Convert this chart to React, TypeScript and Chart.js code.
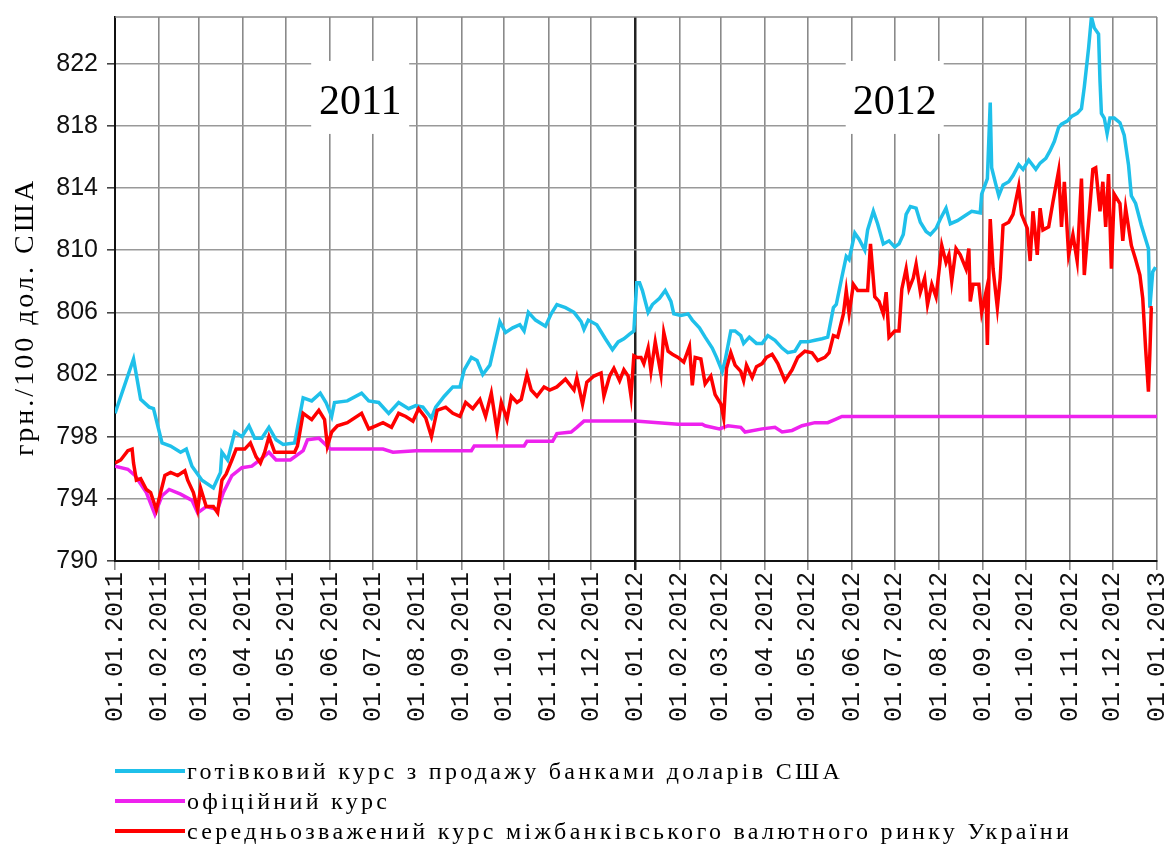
import { useEffect, useRef } from 'react';
import { Chart, registerables } from 'chart.js';

Chart.register(...registerables);

// ---- Data (x = days since 01.01.2011, y = UAH per 100 USD) ----
const cashDays = [0,13,18,24,27,33,39,46,50,54,61,69,74,75,79,84,89,94,98,103,108,113,118,126,132,138,144,148,152,154,163,173,178,185,192,199,206,211,216,222,225,231,237,242,245,250,254,258,263,266,270,274,279,284,287,290,295,302,306,310,316,322,327,329,332,338,344,349,353,357,361,364,366,368,370,374,377,382,386,390,392,397,402,405,410,414,419,422,426,428,432,435,439,441,445,450,454,458,463,468,472,477,481,486,491,496,500,504,506,510,513,515,519,522,526,528,532,535,539,543,547,550,553,555,558,562,565,569,572,576,579,583,586,591,596,601,607,608,612,614,615,618,620,623,627,630,634,637,641,646,649,653,656,659,662,664,668,671,675,678,680,683,685,687,690,691,692,694,696,698,701,705,708,711,713,716,720,725,726,728,730];
const cashRates = [799.5,803.0,800.4,799.9,799.8,797.6,797.4,797.0,797.2,796.1,795.2,794.7,795.7,797.0,796.5,798.3,798.0,798.7,797.9,797.9,798.6,797.8,797.5,797.6,800.5,800.3,800.8,800.2,799.3,800.2,800.3,800.8,800.3,800.2,799.5,800.2,799.8,800.0,799.9,799.2,799.9,800.6,801.2,801.2,802.3,803.1,802.9,802.0,802.6,803.8,805.4,804.7,805.0,805.2,804.8,806.0,805.5,805.1,805.9,806.5,806.3,806.0,805.4,804.9,805.5,805.2,804.3,803.6,804.1,804.3,804.6,804.8,807.9,807.9,807.4,806.0,806.5,806.9,807.4,806.7,805.9,805.8,805.9,805.5,805.0,804.4,803.7,803.1,802.2,802.9,804.8,804.8,804.5,804.0,804.4,804.0,804.0,804.5,804.2,803.7,803.4,803.5,804.1,804.1,804.2,804.3,804.4,806.3,806.5,808.3,809.6,809.4,811.1,810.7,810.0,811.3,812.5,811.7,810.4,810.6,810.2,810.4,811.0,812.3,812.8,812.7,811.8,811.2,811.0,811.4,812.0,812.7,811.7,811.9,812.2,812.5,812.4,813.6,814.6,819.5,815.3,814.2,813.5,814.2,814.4,814.8,815.5,815.2,815.8,815.2,815.6,815.9,816.4,817.0,817.9,818.1,818.3,818.6,818.8,819.1,820.5,823.0,825.0,824.3,823.9,820.9,818.8,818.5,817.5,818.5,818.5,818.2,817.4,815.5,813.5,813.0,811.6,810.1,806.3,808.6,808.9];

const officialDays = [0,9,14,22,28,33,38,46,54,58,64,72,76,82,89,96,103,108,113,123,132,135,143,151,188,195,211,250,252,287,289,307,310,320,324,329,365,395,412,414,424,430,439,442,454,463,468,475,482,491,500,505,510,731];
const officialRates = [796.1,795.9,795.5,794.4,793.0,794.2,794.6,794.3,793.9,793.1,793.5,793.3,794.4,795.5,796.0,796.1,796.6,797.0,796.5,796.5,797.1,797.8,797.9,797.2,797.2,797.0,797.1,797.1,797.4,797.4,797.7,797.7,798.2,798.3,798.6,799.0,799.0,798.8,798.8,798.7,798.5,798.7,798.6,798.3,798.5,798.6,798.3,798.4,798.7,798.9,798.9,799.1,799.3,799.3];

const interbankDays = [0,4,9,12,13,15,18,22,25,29,32,35,39,44,49,51,55,58,60,64,69,72,75,78,82,85,91,95,99,102,105,108,112,118,126,128,132,138,143,147,149,152,156,163,173,178,183,188,194,199,204,209,213,218,222,226,232,237,242,246,251,256,260,264,268,271,275,278,282,285,289,292,296,301,305,310,316,322,324,328,331,336,341,343,347,350,354,357,360,362,364,366,369,371,374,376,379,383,385,388,391,395,399,403,405,407,411,414,418,421,425,427,429,432,435,439,441,443,447,450,454,457,461,465,470,475,479,484,489,493,498,501,504,507,511,513,515,518,521,526,528,530,533,536,539,541,543,547,550,552,555,557,560,562,565,568,570,573,576,578,580,583,585,587,590,593,597,599,600,602,606,608,611,612,614,616,619,621,623,627,630,634,636,640,642,644,647,649,651,655,658,662,664,666,669,672,675,678,680,683,686,688,691,693,695,697,699,701,705,707,709,713,716,719,721,723,725,726,727,728];
const interbankRates = [796.3,796.5,797.1,797.2,796.3,795.2,795.3,794.6,794.4,793.3,794.4,795.5,795.7,795.5,795.8,795.2,794.4,793.3,794.7,793.5,793.5,793.1,795.2,795.6,796.5,797.2,797.2,797.6,796.7,796.3,797.0,798.0,797.0,797.0,797.0,797.4,799.5,799.1,799.7,799.1,797.4,798.3,798.7,798.9,799.5,798.5,798.7,798.9,798.6,799.5,799.3,799.0,799.8,799.2,798.0,799.7,799.9,799.5,799.3,800.2,799.8,800.4,799.3,800.8,798.4,800.2,799.1,800.6,800.2,800.4,802.0,801.0,800.6,801.2,801.0,801.2,801.7,801.0,801.8,800.1,801.5,801.9,802.1,800.6,801.9,802.4,801.6,802.3,801.9,800.6,803.2,803.1,803.1,802.7,803.7,802.2,804.1,802.0,804.7,803.5,803.3,803.1,802.8,803.8,801.3,803.1,803.0,801.4,801.9,800.7,800.1,799.2,802.4,803.4,802.6,802.2,801.6,802.6,801.8,802.5,802.7,803.1,803.3,802.7,801.6,802.3,803.1,803.5,803.4,802.9,803.1,803.4,804.5,804.4,805.9,807.4,805.9,807.8,807.4,807.4,807.4,810.4,807.0,806.7,805.9,807.3,804.4,804.8,804.8,807.5,808.8,807.5,808.2,809.1,807.3,808.2,806.5,807.8,807.0,808.6,810.3,809.2,809.7,808.0,810.1,809.7,808.8,810.1,806.7,807.8,807.8,806.0,807.3,803.9,812.0,808.8,806.3,808.2,811.6,811.8,812.3,814.1,812.3,811.4,809.3,812.5,809.7,812.7,811.3,811.5,813.1,815.1,811.5,814.4,809.7,811.0,809.3,814.6,808.4,811.8,815.2,815.3,812.5,814.4,811.5,814.9,808.8,813.6,813.0,810.6,812.7,810.3,809.4,808.4,806.9,803.7,800.9,803.4,806.3,806.3];

const monthTickDays = [0,31,59,90,120,151,181,212,243,273,304,334,365,396,425,456,486,517,547,578,609,639,670,700,731];
const monthTickLabels = ['01.01.2011','01.02.2011','01.03.2011','01.04.2011','01.05.2011','01.06.2011','01.07.2011','01.08.2011','01.09.2011','01.10.2011','01.11.2011','01.12.2011','01.01.2012','01.02.2012','01.03.2012','01.04.2012','01.05.2012','01.06.2012','01.07.2012','01.08.2012','01.09.2012','01.10.2012','01.11.2012','01.12.2012','01.01.2013'];
const yTickValues = [790,794,798,802,806,810,814,818,822];
const yearLabels = ['2011','2012'];
const yearLabelDays = [172,547];
const yearLabelRate = 819.6;
const yAxisTitle = 'грн./100 дол. США';
const seriesLabels = [
  'готівковий курс з продажу банками доларів США',
  'офіційний курс',
  'середньозважений курс міжбанківського валютного ринку України',
];
const seriesColors = ['#1fc0ea', '#ee22ee', '#ff0000'];

const toPoints = (xs: number[], ys: number[]) => xs.map((x, i) => ({ x, y: ys[i] }));

export default function App() {
  const ref = useRef<HTMLCanvasElement | null>(null);

  useEffect(() => {
    if (!ref.current) return;

    const decorations = {
      id: 'decorations',
      beforeDatasetsDraw(chart: any) {
        const { ctx, chartArea, scales } = chart;
        ctx.save();
        // top frame line
        ctx.strokeStyle = '#888';
        ctx.lineWidth = 1.6;
        ctx.beginPath();
        ctx.moveTo(chartArea.left, chartArea.top);
        ctx.lineTo(chartArea.right, chartArea.top);
        ctx.stroke();
        // year labels with white boxes
        ctx.font = '42px "Liberation Serif", "Times New Roman", serif';
        ctx.textAlign = 'center';
        ctx.textBaseline = 'middle';
        yearLabels.forEach((t, i) => {
          const px = scales.x.getPixelForValue(yearLabelDays[i]);
          const py = scales.y.getPixelForValue(yearLabelRate);
          ctx.fillStyle = '#fff';
          ctx.fillRect(px - 49, py - 40, 98, 73);
          ctx.fillStyle = '#000';
          ctx.fillText(t, px, py + 2);
        });
        ctx.restore();
      },
      afterDraw(chart: any) {
        const { ctx } = chart;
        ctx.save();
        ctx.translate(26, 317);
        ctx.rotate(-Math.PI / 2);
        ctx.font = '28px "Liberation Serif", "Times New Roman", serif';
        (ctx as any).letterSpacing = '3px';
        ctx.fillStyle = '#000';
        ctx.textAlign = 'center';
        ctx.textBaseline = 'middle';
        ctx.fillText(yAxisTitle, 0, 0);
        (ctx as any).letterSpacing = '0px';
        ctx.restore();
      },
    };

    const chart = new Chart(ref.current, {
      type: 'line',
      data: {
        datasets: [
          {
            label: seriesLabels[0],
            data: toPoints(cashDays, cashRates),
            borderColor: seriesColors[0],
            borderWidth: 3.5,
            pointRadius: 0,
            tension: 0,
            order: 2,
          },
          {
            label: seriesLabels[1],
            data: toPoints(officialDays, officialRates),
            borderColor: seriesColors[1],
            borderWidth: 3.5,
            pointRadius: 0,
            tension: 0,
            order: 1,
          },
          {
            label: seriesLabels[2],
            data: toPoints(interbankDays, interbankRates),
            borderColor: seriesColors[2],
            borderWidth: 3.5,
            pointRadius: 0,
            tension: 0,
            order: 0,
          },
        ],
      },
      options: {
        responsive: false,
        animation: false,
        parsing: true,
        layout: { padding: { top: 17, right: 13, left: 0, bottom: 96 } },
        plugins: {
          legend: { display: false },
          tooltip: { enabled: false },
        },
        scales: {
          x: {
            type: 'linear',
            min: 0,
            max: 731,
            afterBuildTicks: (s: any) => {
              s.ticks = monthTickDays.map((v) => ({ value: v }));
            },
            afterFit: (s: any) => {
              s.height = 190;
              s.paddingLeft = 0;
              s.paddingRight = 0;
            },
            ticks: {
              autoSkip: false,
              minRotation: 90,
              maxRotation: 90,
              padding: 2,
              color: '#111',
              font: { family: '"Liberation Mono", "DejaVu Sans Mono", monospace', size: 25 },
              callback: (_v: any, i: number) => monthTickLabels[i] ?? '',
            },
            grid: {
              color: (c: any) => (c.tick && c.tick.value === 365 ? '#222' : '#8a8a8a'),
              lineWidth: (c: any) => (c.tick && c.tick.value === 365 ? 2.5 : 1.6),
              tickLength: 9,
            },
            border: { color: '#111', width: 2 },
          },
          y: {
            type: 'linear',
            min: 790,
            max: 825,
            afterBuildTicks: (s: any) => {
              s.ticks = yTickValues.map((v) => ({ value: v }));
            },
            afterFit: (s: any) => {
              s.width = 115;
              s.paddingTop = 0;
              s.paddingBottom = 0;
            },
            ticks: {
              padding: 9,
              color: '#111',
              font: { family: '"Liberation Sans", Arial, sans-serif', size: 25 },
            },
            grid: {
              color: '#999',
              lineWidth: 1.6,
              tickLength: 8,
              tickColor: '#444',
            },
            border: { color: '#111', width: 2 },
          },
        },
      },
      plugins: [decorations],
    } as any);

    return () => chart.destroy();
  }, []);

  const rowCenters = [771, 801, 831];

  return (
    <div style={{ position: 'fixed', left: 0, top: 0, width: 1170, height: 847, background: '#fff' }}>
      <canvas ref={ref} width={1170} height={847} style={{ position: 'absolute', left: 0, top: 0 }} />
      {seriesLabels.map((label, i) => (
        <div key={label}>
          <div
            style={{
              position: 'absolute',
              left: 115,
              top: rowCenters[i] - 2,
              width: 70,
              height: 4,
              background: seriesColors[i],
            }}
          />
          <div
            style={{
              position: 'absolute',
              left: 187,
              top: rowCenters[i] - 15,
              height: 30,
              lineHeight: '30px',
              fontFamily: '"Liberation Serif", "Times New Roman", serif',
              fontSize: 24,
              letterSpacing: '3.3px',
              color: '#000',
              whiteSpace: 'nowrap',
            }}
          >
            {label}
          </div>
        </div>
      ))}
    </div>
  );
}
